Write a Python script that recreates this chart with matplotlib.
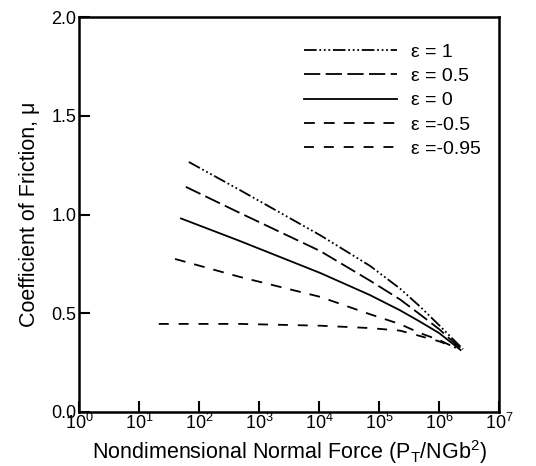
import numpy as np
import matplotlib
matplotlib.use("Agg")
import matplotlib.pyplot as plt

plt.rcParams['font.family'] = ['Liberation Sans', 'DejaVu Sans']
plt.rcParams['mathtext.fontset'] = 'custom'
plt.rcParams['mathtext.rm'] = 'Liberation Sans'
plt.rcParams['mathtext.it'] = 'Liberation Sans'
plt.rcParams['mathtext.default'] = 'regular'

labels = ['ε = 1', 'ε = 0.5', 'ε = 0', 'ε =-0.5', 'ε =-0.95']

# log10 of nondimensional normal force and friction coefficient per curve
logx_e1 = [1.83, 2.68, 4.02, 4.85, 5.35, 5.68, 6.0, 6.40]
mu_e1 = [1.266, 1.124, 0.895, 0.74, 0.625, 0.535, 0.44, 0.318]
logx_e05 = [1.78, 2.68, 4.02, 4.85, 5.35, 5.68, 6.0, 6.38]
mu_e05 = [1.14, 1.008, 0.815, 0.665, 0.57, 0.495, 0.42, 0.316]
logx_e0 = [1.70, 2.68, 4.02, 4.85, 5.35, 5.68, 6.0, 6.36]
mu_e0 = [0.98, 0.866, 0.704, 0.592, 0.515, 0.458, 0.40, 0.314]
logx_em05 = [1.60, 2.68, 4.02, 4.85, 5.35, 5.68, 6.0, 6.32]
mu_em05 = [0.775, 0.684, 0.583, 0.495, 0.445, 0.40, 0.365, 0.318]
logx_em095 = [1.33, 2.68, 4.02, 4.85, 5.35, 5.68, 6.0, 6.28]
mu_em095 = [0.446, 0.446, 0.437, 0.425, 0.412, 0.385, 0.358, 0.325]

series = [(logx_e1, mu_e1), (logx_e05, mu_e05), (logx_e0, mu_e0),
          (logx_em05, mu_em05), (logx_em095, mu_em095)]
styles = [(0, (7, 1.5, 1, 1.5, 1, 1.5, 1, 1.5)),
          (0, (9, 3)),
          '-',
          (0, (6, 5)),
          (0, (5.5, 5.5))]

fig = plt.figure(figsize=(5.36, 4.66), dpi=100)
ax = fig.add_axes([79/536, 54/466, 420/536, 395/466])

for (lx, mu), ls, lab in zip(series, styles, labels):
    ax.plot(10**np.array(lx), mu, color='black', lw=1.3, linestyle=ls, label=lab)

ax.set_xscale('log')
ax.set_xlim(1, 1e7)
ax.set_ylim(0, 2.0)
ax.set_xticks([10**i for i in range(8)])
ax.set_xticklabels([r'$10^{%d}$' % i for i in range(8)])
ax.xaxis.set_minor_locator(matplotlib.ticker.NullLocator())
ax.set_yticks([0, 0.5, 1.0, 1.5, 2.0])
ax.set_yticklabels(['0.0', '0.5', '1.0', '1.5', '2.0'])
ax.tick_params(direction='in', length=8, width=1.5, labelsize=13, pad=2,
               top=False, right=False)
ax.tick_params(axis='x', pad=1)
for s in ax.spines.values():
    s.set_linewidth(1.8)

ax.set_xlabel(r'Nondimensional Normal Force (P$_T$/NGb$^2$)', fontsize=15.5, labelpad=3)
ax.set_ylabel('Coefficient of Friction, μ', fontsize=15.5, labelpad=8)

leg = ax.legend(loc='upper left', bbox_to_anchor=(304/536, 1 - 43/466),
                bbox_transform=fig.transFigure, frameon=False, fontsize=14,
                handlelength=4.8, handletextpad=0.7, labelspacing=0.35,
                borderpad=0, borderaxespad=0)

fig.savefig('out.png', dpi=100)
